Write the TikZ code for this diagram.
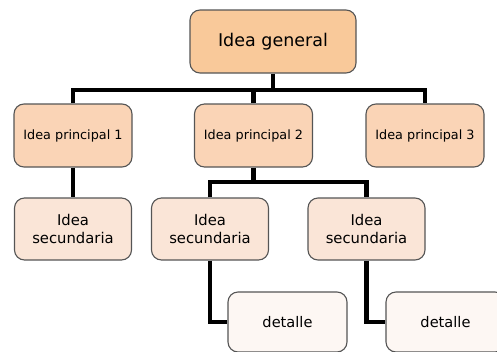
\documentclass[tikz,border=0pt]{standalone}
\usepackage{fontspec}
\setmainfont{DejaVu Sans}
\usepackage{xcolor}
\usepackage{tikz}
\usetikzlibrary{arrows.meta, positioning, calc}
\definecolor{genfill}{HTML}{F9C99A}
\definecolor{prinfill}{HTML}{FAD4B6}
\definecolor{secfill}{HTML}{FAE5D7}
\definecolor{detfill}{HTML}{FDF7F3}
\definecolor{edgegray}{HTML}{555555}

\begin{document}
\begin{tikzpicture}[
  x=1pt, y=-1pt,
  box/.style={draw=edgegray, line width=1.1pt, rounded corners=10pt, align=center, inner sep=0pt},
  genbox/.style={box, fill=genfill, minimum width=166pt, minimum height=63pt, font=\fontsize{17.5}{21}\selectfont},
  prinbox/.style={box, fill=prinfill, minimum width=118pt, minimum height=63pt, font=\fontsize{12.8}{15}\selectfont},
  secbox/.style={box, fill=secfill, minimum width=117pt, minimum height=62pt, font=\fontsize{14.8}{18}\selectfont},
  detbox/.style={box, fill=detfill, minimum width=119pt, minimum height=60pt, font=\fontsize{14.6}{18}\selectfont},
  link/.style={line width=4.5pt, line join=miter}
]
\useasboundingbox (0,0) rectangle (497,351);
\clip (0,0) rectangle (497,351);

% Junction points of the tree
\coordinate (bartop) at (273,90);
\coordinate (barmid) at (253.5,182);

% Boxes
\node[genbox] (general) at (273,41.5) {Idea general};
\node[prinbox] (prin1) at (73,135.5) {Idea principal 1};
\node[prinbox] (prin2) at (253.5,135.5) {Idea principal 2};
\node[prinbox] (prin3) at (425,135.5) {Idea principal 3};
\node[secbox] (sec1) at (73,229) {Idea\\secundaria};
\node[secbox] (sec2) at (210,229) {Idea\\secundaria};
\node[secbox] (sec3) at (366.5,229) {Idea\\secundaria};
\node[detbox] (det1) at (287.5,322) {detalle};
\node[detbox] (det2) at (445.5,322) {detalle};

% Links
\draw[link] (general.south) -- (bartop);
\draw[link] (prin1.north) |- (bartop) -| (prin3.north);
\draw[link] (prin2.north) -- (prin2.north |- bartop);
\draw[link] (prin1.south) -- (sec1.north);
\draw[link] (prin2.south) -- (barmid);
\draw[link] (sec2.north) |- (barmid) -| (sec3.north);
\draw[link] (sec2.south) |- (det1.west);
\draw[link] (sec3.south) |- (det2.west);

\end{tikzpicture}
\end{document}
